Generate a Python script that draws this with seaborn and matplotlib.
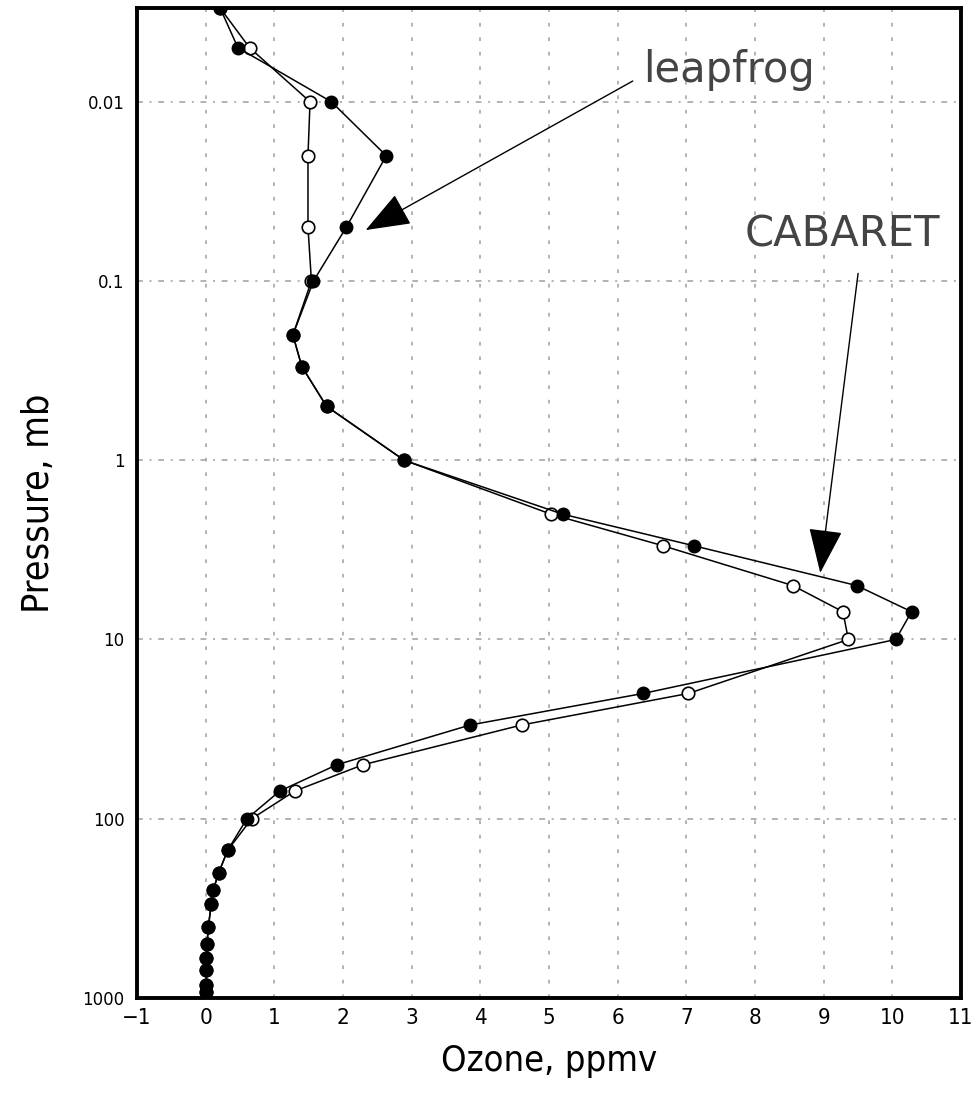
import matplotlib
matplotlib.use("Agg")
import matplotlib.pyplot as plt
from matplotlib import font_manager
import seaborn as sns
import pandas as pd

# Pressure levels (mb) and ozone mixing ratio (ppmv) for the two advection schemes
pressure = [0.003, 0.005, 0.01, 0.02, 0.05, 0.1, 0.2, 0.3, 0.5, 1, 2, 3, 5, 7, 10,
            20, 30, 50, 70, 100, 150, 200, 250, 300, 400, 500, 600, 700, 850, 925]
ozone_leapfrog = [0.21, 0.47, 1.83, 2.63, 2.05, 1.57, 1.27, 1.40, 1.76, 2.89, 5.20,
                  7.11, 9.48, 10.28, 10.05, 6.37, 3.85, 1.91, 1.08, 0.60, 0.32, 0.19,
                  0.11, 0.08, 0.04, 0.02, 0.01, 0.01, 0.01, 0.0]
ozone_cabaret = [0.21, 0.64, 1.52, 1.49, 1.49, 1.54, 1.27, 1.40, 1.76, 2.89, 5.03,
                 6.66, 8.55, 9.28, 9.36, 7.03, 4.60, 2.29, 1.30, 0.67, 0.32, 0.19,
                 0.11, 0.08, 0.04, 0.02, 0.01, 0.01, 0.01, 0.0]

x_ticks = list(range(-1, 12))
x_ticklabels = ["\u22121"] + [str(v) for v in range(0, 12)]
y_ticks = [0.01, 0.1, 1, 10, 100, 1000]
y_ticklabels = ["0.01", "0.1", "1", "10", "100", "1000"]

sns.set_style("white")
installed = {f.name for f in font_manager.fontManager.ttflist}
narrow = "Liberation Sans Narrow" if "Liberation Sans Narrow" in installed else "DejaVu Sans"
plt.rcParams["font.family"] = [narrow, "DejaVu Sans"]
plt.rcParams["text.color"] = "black"
plt.rcParams["axes.labelcolor"] = "black"
plt.rcParams["xtick.color"] = "black"
plt.rcParams["ytick.color"] = "black"

df_leap = pd.DataFrame({"ozone": ozone_leapfrog, "pressure": pressure})
df_cab = pd.DataFrame({"ozone": ozone_cabaret, "pressure": pressure})

fig = plt.figure(figsize=(9.74, 10.94), dpi=100)
ax = fig.add_axes([137 / 974, 1 - 998 / 1094, 824 / 974, 990 / 1094])

grid_col = "#a6a6a6"
for xv in range(0, 11):
    ax.axvline(xv, color=grid_col, lw=1.2, ls=(0, (2.2, 6.5)), zorder=0)
for yv in [0.01, 0.1, 1, 10, 100]:
    ax.axhline(yv, color=grid_col, lw=1.2, ls=(0, (3.5, 4, 1.2, 4)), zorder=0)

sns.lineplot(data=df_cab, x="ozone", y="pressure", sort=False, estimator=None,
             color="black", lw=1.1, marker="o", markersize=9,
             markerfacecolor="white", markeredgecolor="black", markeredgewidth=1.2,
             ax=ax, zorder=3)
sns.lineplot(data=df_leap, x="ozone", y="pressure", sort=False, estimator=None,
             color="black", lw=1.1, marker="o", markersize=9,
             markerfacecolor="black", markeredgecolor="black", markeredgewidth=1.0,
             ax=ax, zorder=4)

ax.set_yscale("log")
ax.set_ylim(1000, 0.003)
ax.set_xlim(-1, 11)
ax.set_xticks(x_ticks)
ax.set_xticklabels(x_ticklabels, fontsize=16, fontstretch="condensed")
ax.set_yticks(y_ticks)
ax.set_yticklabels(y_ticklabels, fontsize=12)
ax.minorticks_off()
ax.tick_params(axis="x", direction="inout", length=8, width=1.5, pad=3)
ax.tick_params(axis="y", direction="out", length=6, width=1.5, pad=3)

for sp in ax.spines.values():
    sp.set_linewidth(2.8)
    sp.set_color("black")

ax.set_xlabel("Ozone, ppmv", fontsize=26, labelpad=12, fontstretch="condensed")
ax.set_ylabel("Pressure, mb", fontsize=27, labelpad=18, fontstretch="condensed")

# Scheme labels with arrows pointing at the curves
head = "-|>,head_length=0.95,head_width=0.36"
ax.annotate("leapfrog", xy=(2.33, 0.052), xytext=(6.37, 0.00773),
            fontsize=30, color="#444444", family="DejaVu Sans",
            ha="left", va="baseline",
            arrowprops=dict(arrowstyle=head, color="black", lw=1.0,
                            shrinkA=0, shrinkB=0, relpos=(-0.06, 0.23)))
ax.annotate("CABARET", xy=(8.95, 4.25), xytext=(7.85, 0.0644),
            fontsize=30, color="#444444", family="DejaVu Sans",
            ha="left", va="baseline",
            arrowprops=dict(arrowstyle=head, color="black", lw=1.0,
                            shrinkA=0, shrinkB=0, relpos=(0.58, -0.42)))

fig.savefig("out.png", dpi=100)
